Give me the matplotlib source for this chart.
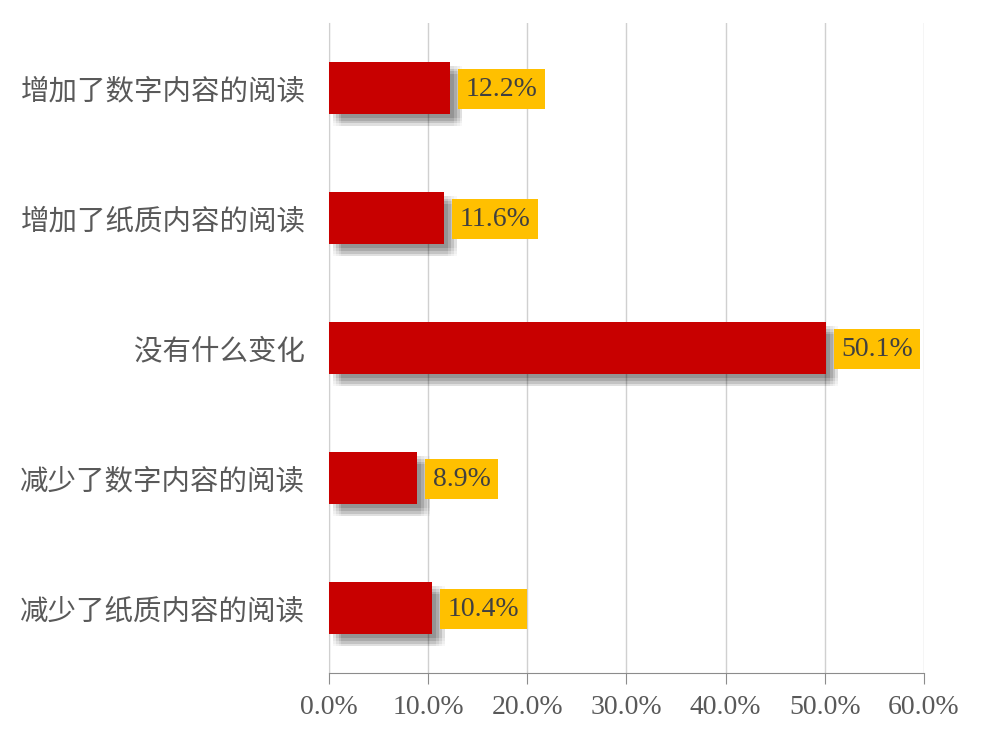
import matplotlib
matplotlib.use('Agg')
import matplotlib.pyplot as plt
import matplotlib.patheffects as pe
from matplotlib.ticker import FuncFormatter, MultipleLocator

categories = ['增加了数字内容的阅读', '增加了纸质内容的阅读', '没有什么变化',
              '减少了数字内容的阅读', '减少了纸质内容的阅读']
values = [0.122, 0.116, 0.501, 0.089, 0.104]

fig = plt.figure(figsize=(9.85, 7.33), dpi=100)
ax = fig.add_axes([0.334, 0.082, 0.604, 0.887])

# soft shadow: stack several shifted copies with low alpha
shadow = []
for dx in (3, 5, 7, 9):
    for dy in (-3, -5, -7, -9):
        shadow.append(pe.SimplePatchShadow(offset=(dx, dy), shadow_rgbFace='black', alpha=0.03))
shadow.append(pe.Normal())

y = list(range(len(categories)))
bars = ax.barh(y, values, height=0.4, color='#C80000', zorder=3)
for b in bars:
    b.set_path_effects(shadow)

for yi, v in zip(y, values):
    ax.annotate(f'{v*100:.1f}%', xy=(v, yi), xytext=(11, -1), textcoords='offset points',
                ha='left', va='center', fontsize=20, family='Liberation Serif',
                color='#404040', zorder=4,
                bbox=dict(boxstyle='square,pad=0.27', fc='#FFC000', ec='none'))

ax.set_xlim(0, 0.6)
ax.set_ylim(len(categories) - 0.5, -0.5)
ax.xaxis.set_major_locator(MultipleLocator(0.1))
ax.xaxis.set_major_formatter(FuncFormatter(lambda x, _: f'{x*100:.1f}%'))
ax.set_yticks(y)
ax.set_yticklabels(categories, family=['Noto Sans CJK SC', 'DejaVu Sans'],
                   fontsize=20.5, color='#595959')

for lbl in ax.get_xticklabels():
    lbl.set_family('Liberation Serif')
    lbl.set_fontsize(20)
    lbl.set_color('#595959')

ax.grid(axis='x', color='#D0D0D0', linewidth=1)
ax.set_axisbelow(True)
for s in ('top', 'right'):
    ax.spines[s].set_visible(False)
ax.spines['left'].set_color('#D0D0D0')
ax.spines['bottom'].set_color('#8C8C8C')
ax.tick_params(axis='x', direction='out', length=8, color='#8C8C8C', pad=8)
ax.tick_params(axis='y', length=0, pad=17)

fig.savefig('out.png', dpi=100)
